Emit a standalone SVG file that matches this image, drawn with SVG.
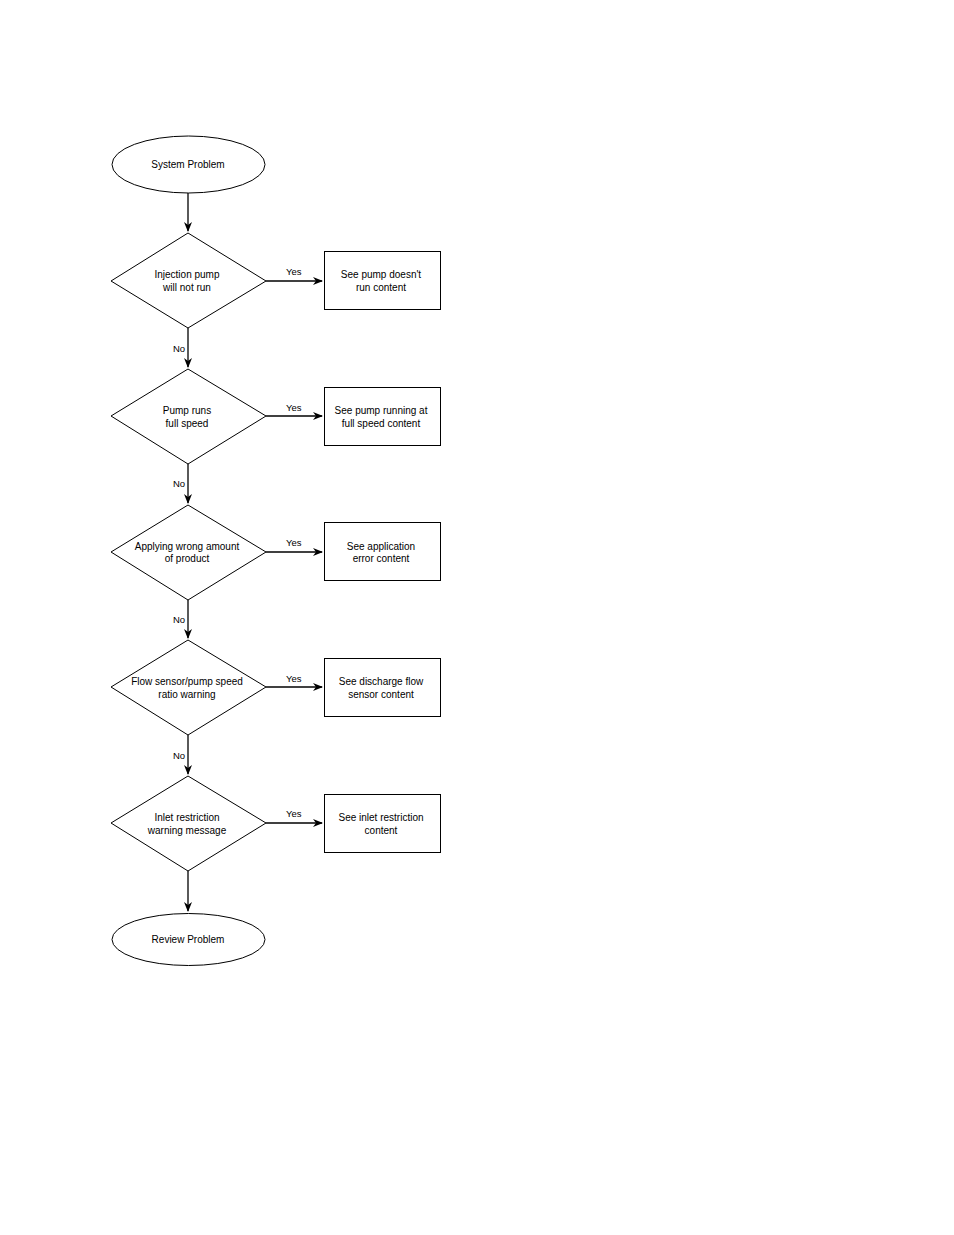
<svg xmlns="http://www.w3.org/2000/svg" width="954" height="1235" viewBox="0 0 954 1235">
<style>
.s{fill:#fff;stroke:#000;stroke-width:1}
.t{font-family:"Liberation Sans",Arial,sans-serif;font-size:10px;fill:#000;text-anchor:middle}
.l{font-family:"Liberation Sans",Arial,sans-serif;font-size:9.5px;fill:#000}
.c{stroke:#000;stroke-width:1.3;fill:none;marker-end:url(#a)}
</style>
<defs><marker id="a" markerWidth="10" markerHeight="8" refX="9" refY="4" orient="auto" markerUnits="userSpaceOnUse"><path d="M0,0 L10,4 L0,8 L3,4 Z" fill="#000"/></marker></defs>
<rect width="954" height="1235" fill="#fff"/>
<g id="connectors">
<path class="c" d="M188,193 V231"/>
<path class="c" d="M188,328 V367"/>
<path class="c" d="M188,464 V503"/>
<path class="c" d="M188,600 V638"/>
<path class="c" d="M188,735 V774"/>
<path class="c" d="M188,871 V911"/>
<path class="c" d="M266,281 H322"/>
<path class="c" d="M266,416 H322"/>
<path class="c" d="M266,552 H322"/>
<path class="c" d="M266,687 H322"/>
<path class="c" d="M266,823 H322"/>
<text class="l" x="286" y="275">Yes</text>
<text class="l" x="286" y="411">Yes</text>
<text class="l" x="286" y="546">Yes</text>
<text class="l" x="286" y="682">Yes</text>
<text class="l" x="286" y="817">Yes</text>
<text class="l" x="173" y="352">No</text>
<text class="l" x="173" y="487">No</text>
<text class="l" x="173" y="623">No</text>
<text class="l" x="173" y="759">No</text>
</g>
<g id="start"><ellipse class="s" cx="188.5" cy="164.5" rx="76.5" ry="28.5"/><text class="t" x="188" y="168">System Problem</text></g>
<g id="d1"><polygon class="s" points="188,233 266,281 188,328 111,281"/><text class="t" x="187" y="278">Injection pump</text><text class="t" x="187" y="291">will not run</text></g>
<g id="d2"><polygon class="s" points="188,369 266,416 188,464 111,416"/><text class="t" x="187" y="414">Pump runs</text><text class="t" x="187" y="427">full speed</text></g>
<g id="d3"><polygon class="s" points="188,505 266,552 188,600 111,552"/><text class="t" x="187" y="550">Applying wrong amount</text><text class="t" x="187" y="562">of product</text></g>
<g id="d4"><polygon class="s" points="188,640 266,687 188,735 111,687"/><text class="t" x="187" y="685">Flow sensor/pump speed</text><text class="t" x="187" y="698">ratio warning</text></g>
<g id="d5"><polygon class="s" points="188,776 266,823 188,871 111,823"/><text class="t" x="187" y="821">Inlet restriction</text><text class="t" x="187" y="834">warning message</text></g>
<g id="b1"><rect class="s" x="324.5" y="251.5" width="116" height="58"/><text class="t" x="381" y="278">See pump doesn't</text><text class="t" x="381" y="291">run content</text></g>
<g id="b2"><rect class="s" x="324.5" y="387.5" width="116" height="58"/><text class="t" x="381" y="414">See pump running at</text><text class="t" x="381" y="427">full speed content</text></g>
<g id="b3"><rect class="s" x="324.5" y="522.5" width="116" height="58"/><text class="t" x="381" y="550">See application</text><text class="t" x="381" y="562">error content</text></g>
<g id="b4"><rect class="s" x="324.5" y="658.5" width="116" height="58"/><text class="t" x="381" y="685">See discharge flow</text><text class="t" x="381" y="698">sensor content</text></g>
<g id="b5"><rect class="s" x="324.5" y="794.5" width="116" height="58"/><text class="t" x="381" y="821">See inlet restriction</text><text class="t" x="381" y="834">content</text></g>
<g id="end"><ellipse class="s" cx="188.5" cy="939.5" rx="76.5" ry="26"/><text class="t" x="188" y="943">Review Problem</text></g>
</svg>
